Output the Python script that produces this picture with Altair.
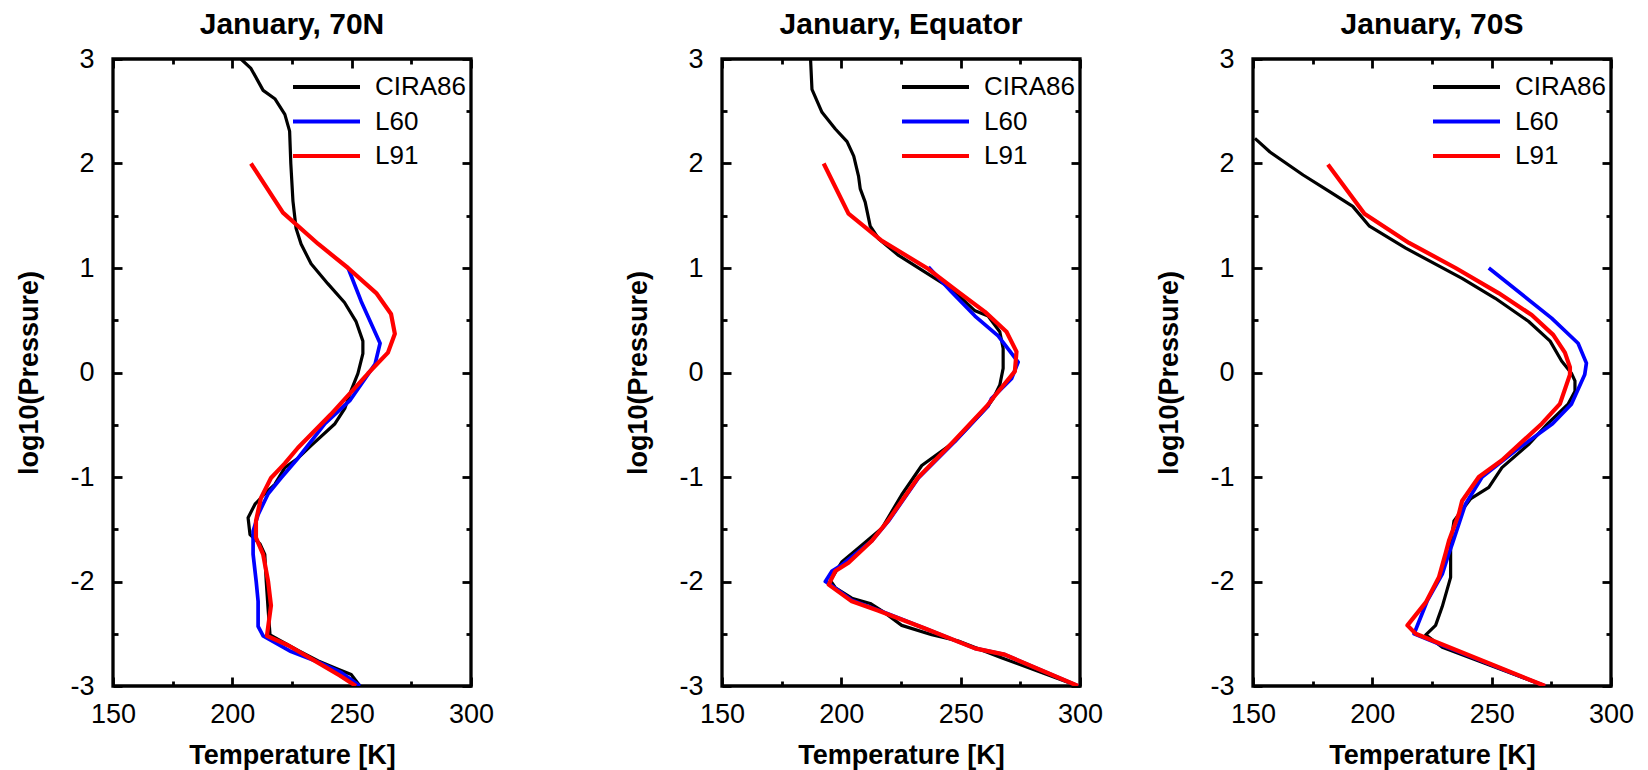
import altair as alt
import pandas as pd

FONT = "Liberation Sans"
W, H = 358, 627

SERIES = ["CIRA86", "L60", "L91"]
COLORS = ["#000000", "#0000ff", "#ff0000"]
WIDTHS = [3.2, 4.2, 4.2]

X_MAJOR = [150, 200, 250, 300]
X_MINOR = [175, 225, 275]
Y_MAJOR = [-3, -2, -1, 0, 1, 2, 3]
Y_MINOR = [-2.5, -1.5, -0.5, 0.5, 1.5, 2.5]

# ---- January, 70N ----
cira_70n_t = [203.6, 207.8, 212.9, 217.8, 222.0, 224.0, 224.5, 225.4, 226.7, 228.8, 233.0, 240.0, 247.0,
              251.8, 254.7, 254.7, 252.6, 249.8, 247.2, 243.0, 233.0, 227.5, 222.0, 217.8, 213.6, 209.5,
              206.6, 207.4, 211.6, 213.6, 214.2, 215.0, 215.8, 227.5, 236.0, 244.3, 249.8, 251.8, 253.5]
cira_70n_p = [3.0, 2.91, 2.70, 2.62, 2.47, 2.31, 2.0, 1.64, 1.38, 1.23, 1.04, 0.85, 0.67,
              0.49, 0.30, 0.18, -0.01, -0.17, -0.34, -0.49, -0.70, -0.82, -0.91, -1.07, -1.16, -1.26,
              -1.39, -1.55, -1.64, -1.74, -2.0, -2.27, -2.51, -2.66, -2.76, -2.84, -2.89, -2.95, -3.0]
l60_70n_t = [248.5, 254.0, 261.9, 259.8, 249.2, 238.8, 227.5, 220.4, 215.0, 210.8, 208.7, 208.7, 210.0,
             210.8, 210.8, 212.9, 224.6, 236.0, 245.6, 253.5]
l60_70n_p = [1.0, 0.68, 0.28, 0.08, -0.27, -0.49, -0.82, -1.01, -1.16, -1.36, -1.52, -1.74, -2.0,
             -2.19, -2.43, -2.52, -2.67, -2.77, -2.87, -3.0]
l91_70n_t = [207.8, 221.2, 236.0, 248.5, 260.3, 266.5, 268.1, 265.2, 256.8, 241.3, 227.5, 222.0, 216.2,
             212.0, 209.9, 209.9, 212.9, 215.0, 216.2, 214.5, 223.3, 234.6, 245.0, 251.8]
l91_70n_p = [2.0, 1.53, 1.23, 1.0, 0.76, 0.56, 0.37, 0.19, -0.01, -0.40, -0.72, -0.87, -1.01,
             -1.20, -1.42, -1.58, -1.74, -2.0, -2.23, -2.52, -2.61, -2.76, -2.90, -3.0]

# ---- January, Equator ----
cira_eq_t = [187.1, 187.7, 191.9, 197.5, 202.4, 205.2, 207.2, 207.9, 210.0, 212.1, 215.6, 224.0, 235.1,
             246.2, 256.0, 261.5, 266.4, 267.8, 267.8, 266.4, 263.6, 261.5, 247.6, 233.7, 225.3, 217.0,
             207.2, 200.3, 195.4, 197.5, 204.4, 212.1, 217.0, 225.3, 237.9, 249.0, 267.1, 299.2]
cira_eq_p = [3.0, 2.71, 2.49, 2.33, 2.21, 2.07, 1.88, 1.76, 1.63, 1.40, 1.28, 1.12, 0.96,
             0.80, 0.59, 0.54, 0.39, 0.23, 0.04, -0.12, -0.25, -0.32, -0.66, -0.89, -1.17, -1.49,
             -1.68, -1.81, -1.99, -2.06, -2.16, -2.21, -2.28, -2.42, -2.51, -2.57, -2.73, -3.0]
l60_eq_t = [236.5, 246.2, 256.0, 265.7, 274.1, 271.3, 262.9, 261.5, 247.6, 232.3, 219.8, 212.8, 200.3,
            196.1, 193.3, 196.1, 204.4, 218.4, 235.1, 256.0, 268.5, 299.2]
l60_eq_p = [1.01, 0.77, 0.54, 0.35, 0.10, -0.06, -0.25, -0.32, -0.66, -1.01, -1.42, -1.61, -1.84,
            -1.90, -2.0, -2.04, -2.18, -2.30, -2.45, -2.64, -2.70, -3.0]
l91_eq_t = [192.6, 203.0, 217.0, 236.5, 249.0, 260.2, 269.2, 273.4, 272.7, 264.4, 261.0, 247.0, 232.0,
            219.5, 212.8, 203.0, 197.5, 194.7, 204.4, 215.6, 235.1, 256.0, 268.5, 299.2]
l91_eq_p = [2.0, 1.52, 1.26, 0.99, 0.77, 0.58, 0.39, 0.20, 0.01, -0.22, -0.32, -0.66, -1.01,
            -1.42, -1.61, -1.82, -1.90, -2.03, -2.19, -2.28, -2.45, -2.64, -2.70, -3.0]

# ---- January, 70S ----
cira_70s_t = [150.8, 157.1, 171.0, 182.1, 191.8, 198.8, 214.0, 237.6, 251.5, 265.4, 274.5, 279.3, 283.5,
              284.9, 284.9, 282.1, 273.5, 265.4, 254.3, 248.8, 241.1, 234.2, 232.8, 232.8, 229.3, 226.5,
              222.4, 229.3, 272.4]
cira_70s_p = [2.24, 2.11, 1.89, 1.73, 1.59, 1.40, 1.19, 0.90, 0.71, 0.49, 0.30, 0.11, -0.01,
              -0.08, -0.18, -0.30, -0.49, -0.69, -0.91, -1.10, -1.21, -1.42, -1.64, -1.96, -2.24, -2.42,
              -2.51, -2.63, -3.0]
l60_70s_t = [248.8, 275.1, 286.2, 289.7, 289.0, 283.5, 275.5, 259.9, 246.0, 239.0, 233.5, 232.1, 229.3,
             223.1, 217.5, 229.3, 272.4]
l60_70s_p = [1.0, 0.52, 0.28, 0.09, -0.02, -0.30, -0.49, -0.75, -1.0, -1.26, -1.64, -1.73, -1.93,
             -2.18, -2.50, -2.61, -3.0]
l91_70s_t = [181.4, 196.7, 215.4, 234.9, 252.9, 266.8, 275.8, 280.7, 282.8, 282.8, 278.6, 271.0, 254.3,
             244.6, 237.6, 236.3, 232.1, 230.7, 227.9, 222.4, 214.7, 218.2, 272.4]
l91_70s_p = [1.99, 1.52, 1.24, 1.0, 0.76, 0.55, 0.36, 0.19, 0.05, -0.02, -0.30, -0.49, -0.84,
             -1.0, -1.23, -1.35, -1.61, -1.73, -1.96, -2.20, -2.42, -2.50, -3.0]


def make_panel(title, curves):
    rows = []
    for name, (ts, ps) in zip(SERIES, curves):
        for i, (t, p) in enumerate(zip(ts, ps)):
            rows.append({"series": name, "T": t, "lp": p, "idx": i})
    df = pd.DataFrame(rows)
    base = alt.Chart(df)
    xs = alt.Scale(domain=[150, 300], nice=False, zero=False)
    ys = alt.Scale(domain=[-3, 3], nice=False, zero=False)

    lines = base.mark_line(clip=True, strokeJoin="round").encode(
        x=alt.X("T:Q", scale=xs, title="Temperature [K]",
                axis=alt.Axis(values=X_MAJOR, ticks=False, tickSize=0, domain=False, grid=False,
                              labelPadding=15, titlePadding=15, labelFontSize=27, titleFontSize=27,
                              titleFontWeight="bold", labelFlush=False, labelOverlap=False,
                              labelColor="black", titleColor="black", labelFont=FONT, titleFont=FONT,
                              labelExpr="'' + datum.value")),
        y=alt.Y("lp:Q", scale=ys, title="log10(Pressure)",
                axis=alt.Axis(values=Y_MAJOR, ticks=False, tickSize=0, domain=False, grid=False,
                              labelPadding=19, titlePadding=26, labelFontSize=27, titleFontSize=27,
                              titleFontWeight="bold", labelFlush=False, labelOverlap=False,
                              labelColor="black", titleColor="black", labelFont=FONT, titleFont=FONT,
                              labelExpr="'' + datum.value")),
        color=alt.Color("series:N", scale=alt.Scale(domain=SERIES, range=COLORS),
                        legend=alt.Legend(orient="none", legendX=178, legendY=13, title=None,
                                          symbolType="stroke", symbolSize=4489, symbolStrokeWidth=4.0,
                                          labelFontSize=26, labelFont=FONT, labelOffset=13,
                                          rowPadding=4.5, clipHeight=30, padding=0, labelColor="black")),
        strokeWidth=alt.StrokeWidth("series:N", scale=alt.Scale(domain=SERIES, range=WIDTHS), legend=None),
        order="idx:Q",
    )

    def ticks(xvals, yvals, size, xorient, yorient):
        return base.mark_point(opacity=0, size=0).encode(
            x=alt.X("T:Q", scale=xs, title=None,
                    axis=alt.Axis(orient=xorient, offset=-H, values=xvals, labels=False, domain=False,
                                  grid=False, ticks=True, tickSize=size, tickWidth=2.8, tickColor="black")),
            y=alt.Y("lp:Q", scale=ys, title=None,
                    axis=alt.Axis(orient=yorient, offset=-W, values=yvals, labels=False, domain=False,
                                  grid=False, ticks=True, tickSize=size, tickWidth=2.8, tickColor="black")),
        )

    layers = [
        lines,
        ticks(X_MAJOR, Y_MAJOR, 9, "bottom", "right"),
        ticks(X_MAJOR, Y_MAJOR, 9, "top", "left"),
        ticks(X_MINOR, Y_MINOR, 5, "bottom", "right"),
        ticks(X_MINOR, Y_MINOR, 5, "top", "left"),
    ]
    return alt.layer(*layers).resolve_axis(x="independent", y="independent").properties(
        width=W, height=H,
        title=alt.TitleParams(title, fontSize=30, fontWeight="bold", font=FONT, anchor="middle",
                              offset=5, color="black"),
    )


p1 = make_panel("January, 70N", [(cira_70n_t, cira_70n_p), (l60_70n_t, l60_70n_p), (l91_70n_t, l91_70n_p)])
p2 = make_panel("January, Equator", [(cira_eq_t, cira_eq_p), (l60_eq_t, l60_eq_p), (l91_eq_t, l91_eq_p)])
p3 = make_panel("January, 70S", [(cira_70s_t, cira_70s_p), (l60_70s_t, l60_70s_p), (l91_70s_t, l91_70s_p)])

right = alt.hconcat(p2, p3, spacing=49).resolve_scale(color="independent")
chart = alt.hconcat(p1, right, spacing=127).resolve_scale(color="independent").properties(
    padding={"left": 14, "top": 8, "right": 0, "bottom": 5}, background="white"
).configure_view(stroke="black", strokeWidth=3.3).configure_axis(
    labelFont=FONT, titleFont=FONT
)

chart.save("out.html", embed_options={"renderer": "svg", "actions": False})
